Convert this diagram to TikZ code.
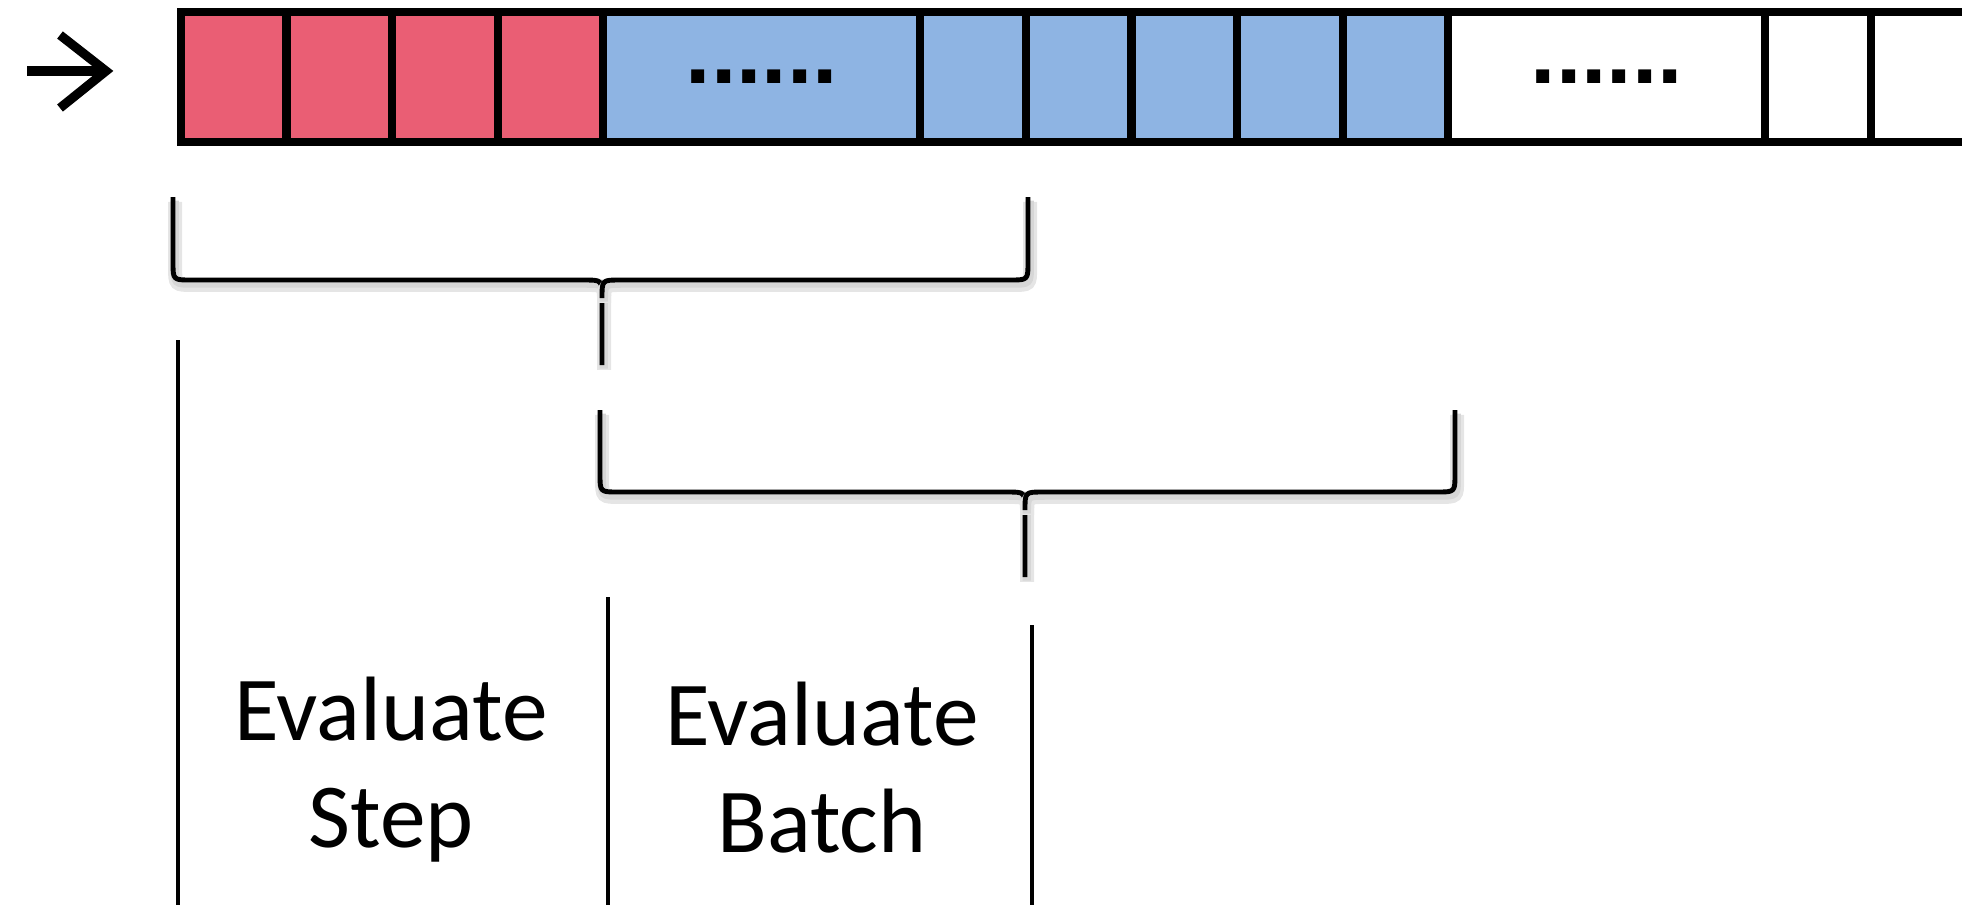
\documentclass[tikz,border=0pt]{standalone}
\usepackage{fontspec}
\setmainfont{Carlito}
\newfontfamily\dotfont{Liberation Sans}
\usetikzlibrary{positioning}

\definecolor{cellred}{RGB}{234,94,116}
\definecolor{cellblue}{RGB}{142,180,227}

\tikzset{
  cell/.style={draw, line width=2.3pt, minimum width=1.055cm, minimum height=1.295cm, inner sep=0pt, outer sep=0pt},
  redcell/.style={cell, fill=cellred},
  bluecell/.style={cell, fill=cellblue},
  whitecell/.style={cell, fill=white},
  widecell/.style={minimum width=3.17cm, font=\dotfont\fontsize{26}{30}\selectfont\bfseries},
  bracket/.style={line width=1.4pt, line join=round,
    preaction={draw=black!10, line width=4pt, transform canvas={shift={(0.6pt,-1.4pt)}}},
    preaction={draw=black!16, line width=2.4pt, transform canvas={shift={(0.5pt,-1pt)}}}},
  divider/.style={line width=1.4pt},
  lbl/.style={align=center, font=\fontsize{26}{30.2}\selectfont, inner sep=0pt}
}

\begin{document}
\begin{tikzpicture}[x=0.01cm, y=-0.01cm]
\clip (0,0) rectangle (1962,905);

% arrow in front of the strip
\draw[line width=2.6pt] (27,71) -- (103,71);
\draw[line width=2.6pt] (60,35) -- (106,71) -- (60,108);

% the strip of cells
\node[redcell] (r1) at (233.75,76.75) {};
\node[redcell, right=0pt of r1] (r2) {};
\node[redcell, right=0pt of r2] (r3) {};
\node[redcell, right=0pt of r3] (r4) {};
\node[bluecell, widecell, right=0pt of r4] (b0) {......};
\node[bluecell, right=0pt of b0] (b1) {};
\node[bluecell, right=0pt of b1] (b2) {};
\node[bluecell, right=0pt of b2] (b3) {};
\node[bluecell, right=0pt of b3] (b4) {};
\node[bluecell, right=0pt of b4] (b5) {};
\node[whitecell, widecell, right=0pt of b5] (w0) {......};
\node[whitecell, right=0pt of w0] (w1) {};
\node[whitecell, right=0pt of w1] (w2) {};

% braces
\draw[bracket] (173,197) -- (173,262) .. controls (173,280) .. (191,280) -- (584,280)
  .. controls (602,280) .. (602,298) -- (602,365);
\draw[bracket] (1028,197) -- (1028,262) .. controls (1028,280) .. (1010,280) -- (620,280)
  .. controls (602,280) .. (602,298);
\draw[bracket] (600,410) -- (600,474) .. controls (600,492) .. (618,492) -- (1007,492)
  .. controls (1025,492) .. (1025,510) -- (1025,577);
\draw[bracket] (1455,410) -- (1455,474) .. controls (1455,492) .. (1437,492) -- (1043,492)
  .. controls (1025,492) .. (1025,510);

% dividers
\draw[divider] (178,340) -- (178,905);
\draw[divider] (608,597) -- (608,905);
\draw[divider] (1032,625) -- (1032,905);

\node[lbl, anchor=base] (step) at (391,847) {Evaluate\\Step};
\node[lbl, anchor=base] (batch) at (822,852) {Evaluate\\Batch};
\end{tikzpicture}
\end{document}
